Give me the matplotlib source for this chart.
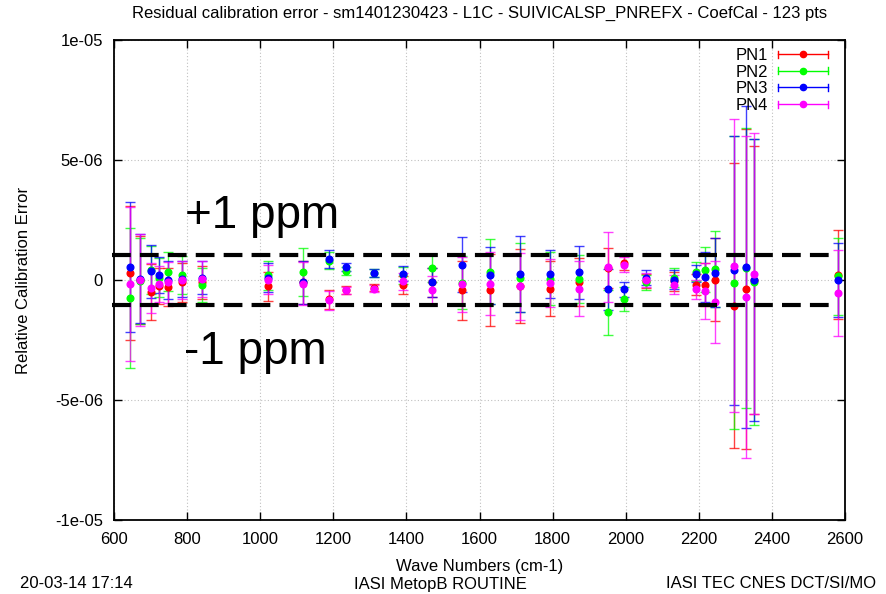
import numpy as np
import matplotlib
matplotlib.use('Agg')
import matplotlib.pyplot as plt
from matplotlib.lines import Line2D
from matplotlib.legend_handler import HandlerBase
from matplotlib.ticker import FixedLocator, FixedFormatter

# wave numbers (cm-1) of the channels
wavenumbers = [645, 670, 702, 724, 747, 785, 841, 1020, 1116, 1188, 1234, 1311,
               1391, 1470, 1552, 1630, 1710, 1792, 1871, 1952, 1996, 2055, 2131,
               2191, 2216, 2245, 2296, 2330, 2350, 2582]

# residual errors, in units of 1e-6
pn1_val = [0.30, 0.00, -0.50, -0.23, -0.30, -0.10, -0.10, -0.26, -0.09, -0.80, -0.40, -0.32,
           -0.22, -0.09, -0.43, -0.42, -0.26, -0.36, -0.10, 0.50, 0.72, -0.05, -0.05,
           -0.19, -0.20, 0.02, -1.08, -0.39, 0.00, 0.22]
pn1_err = [2.80, 1.85, 1.15, 0.75, 0.80, 0.80, 0.70, 0.60, 0.90, 0.40, 0.17, 0.15,
           0.38, 0.60, 1.23, 1.50, 1.55, 1.15, 1.00, 0.85, 0.30, 0.30, 0.40,
           0.45, 0.90, 1.72, 5.94, 6.67, 5.60, 1.86]

pn2_val = [-0.75, -0.05, 0.40, 0.10, 0.35, 0.20, -0.20, 0.20, 0.32, 0.80, 0.36, 0.30,
           0.20, 0.50, -0.12, 0.34, 0.10, 0.05, 0.05, -1.35, -0.80, -0.10, 0.10,
           0.35, 0.43, 0.46, -0.12, 0.50, -0.08, 0.15]
pn2_err = [2.90, 1.80, 1.00, 0.80, 0.80, 0.80, 0.70, 0.60, 1.00, 0.35, 0.17, 0.16,
           0.35, 0.60, 1.10, 1.36, 1.45, 1.10, 1.00, 0.95, 0.50, 0.30, 0.40,
           0.40, 0.94, 1.60, 6.10, 5.84, 5.95, 1.60]

pn3_val = [0.55, 0.05, 0.36, 0.20, 0.00, 0.05, 0.10, 0.09, -0.10, 0.87, 0.53, 0.30,
           0.27, -0.10, 0.64, 0.19, 0.26, 0.26, 0.32, -0.39, -0.39, 0.10, 0.02,
           0.27, 0.13, 0.30, 0.40, 0.53, 0.00, 0.00]
pn3_err = [2.70, 1.85, 1.10, 0.75, 0.80, 0.75, 0.70, 0.60, 0.90, 0.37, 0.16, 0.16,
           0.32, 0.60, 1.16, 1.20, 1.58, 1.00, 1.10, 0.85, 0.30, 0.30, 0.40,
           0.37, 1.05, 1.44, 5.62, 6.70, 5.86, 1.54]

pn4_val = [-0.16, 0.00, -0.34, -0.15, -0.10, 0.00, 0.05, 0.02, -0.15, -0.85, -0.43, -0.37,
           -0.05, -0.42, -0.18, -0.15, -0.26, -0.12, -0.36, 0.55, 0.64, 0.00, -0.20,
           -0.39, -0.46, -0.92, 0.60, -0.70, 0.26, -0.53]
pn4_err = [3.20, 1.90, 1.05, 0.75, 0.85, 0.80, 0.75, 0.60, 0.90, 0.40, 0.15, 0.15,
           0.35, 0.60, 1.15, 1.30, 1.40, 1.00, 1.15, 1.45, 0.30, 0.30, 0.40,
           0.40, 1.17, 1.70, 6.10, 6.70, 5.85, 1.80]

labels = ['PN1', 'PN2', 'PN3', 'PN4']
colors = ['#ff0000', '#00ff00', '#0000ff', '#ff00ff']
ppm = 1.05e-6


class HBarHandler(HandlerBase):
    # gnuplot-like key sample: horizontal bar with end caps and a dot in the middle
    def create_artists(self, legend, orig, xdescent, ydescent, width, height, fontsize, trans):
        col = orig.get_color()
        y = height / 2 - ydescent
        x0, x1 = -xdescent, width - xdescent
        c = 0.3 * height
        arts = [Line2D([x0, x1], [y, y], color=col, lw=1.0),
                Line2D([x0, x0], [y - c, y + c], color=col, lw=1.0),
                Line2D([x1, x1], [y - c, y + c], color=col, lw=1.0),
                Line2D([(x0 + x1) / 2], [y], color=col, marker='o', ms=4.5, ls='none')]
        for a in arts:
            a.set_transform(trans)
        return arts


plt.rcParams['font.family'] = ['Liberation Sans', 'DejaVu Sans']

W, H = 886, 594
fig = plt.figure(figsize=(W / 100, H / 100), dpi=100)
ax = fig.add_axes([114 / W, 1 - 520 / H, (845 - 114) / W, (520 - 40) / H])

series = [(pn1_val, pn1_err), (pn2_val, pn2_err), (pn3_val, pn3_err), (pn4_val, pn4_err)]
handles = []
for (val, err), lab, col in zip(series, labels, colors):
    ax.errorbar(wavenumbers, np.array(val) * 1e-6, yerr=np.array(err) * 1e-6,
                fmt='o', color=col, ecolor=matplotlib.colors.to_rgba(col, 0.75),
                ms=4.8, elinewidth=1.0, capsize=3.5, capthick=1.0, zorder=3)
    handles.append(Line2D([], [], color=col, label=lab))

ax.set_xlim(600, 2600)
ax.set_ylim(-1e-5, 1e-5)
ax.xaxis.set_major_locator(FixedLocator(np.arange(600, 2601, 200)))
ax.yaxis.set_major_locator(FixedLocator([-1e-5, -5e-6, 0, 5e-6, 1e-5]))
ax.yaxis.set_major_formatter(FixedFormatter(['-1e-05', '-5e-06', '0', '5e-06', '1e-05']))
ax.tick_params(direction='in', top=True, right=True, length=6, width=1,
               labelsize=12, colors='black')
ax.tick_params(axis='y', pad=8)
ax.tick_params(axis='x', pad=9)
ax.grid(True, color='#c0c0c0', linestyle=(0, (1, 2)), linewidth=0.8)
for s in ax.spines.values():
    s.set_linewidth(1.3)

# +/- 1 ppm markers
for lvl in (ppm, -ppm):
    ax.axhline(lvl, xmin=-0.003, xmax=0.984, color='black', lw=3,
               dashes=(4.5, 2.2), clip_on=False, zorder=4)
fig.text(185 / W, 1 - 228 / H, '+1 ppm', fontsize=33, va='baseline')
fig.text(184 / W, 1 - 364 / H, '-1 ppm', fontsize=33, va='baseline')

ax.legend(handles=handles, handler_map={Line2D: HBarHandler()},
          loc='upper right', bbox_to_anchor=(828 / W, 1 - 48 / H),
          bbox_transform=fig.transFigure, frameon=False, markerfirst=False,
          fontsize=12, handlelength=3.0, handletextpad=0.6, labelspacing=0.1,
          borderpad=0, borderaxespad=0)

fig.text(480 / W, 1 - 13 / H, 'Residual calibration error - sm1401230423 - L1C - '
         'SUIVICALSP_PNREFX - CoefCal - 123 pts', ha='center', va='center', fontsize=12)
fig.text(480 / W, 1 - 566 / H, 'Wave Numbers (cm-1)', ha='center', va='center', fontsize=12)
fig.text(24 / W, 1 - 280 / H, 'Relative Calibration Error', ha='center', va='center',
         rotation=90, fontsize=12)
fig.text(20 / W, 1 - 584 / H, '20-03-14 17:14', ha='left', va='center', fontsize=12)
fig.text(440 / W, 1 - 584 / H, 'IASI MetopB ROUTINE', ha='center', va='center', fontsize=12)
fig.text(876 / W, 1 - 584 / H, 'IASI TEC CNES DCT/SI/MO', ha='right', va='center', fontsize=12)

fig.savefig('out.png', dpi=100)
